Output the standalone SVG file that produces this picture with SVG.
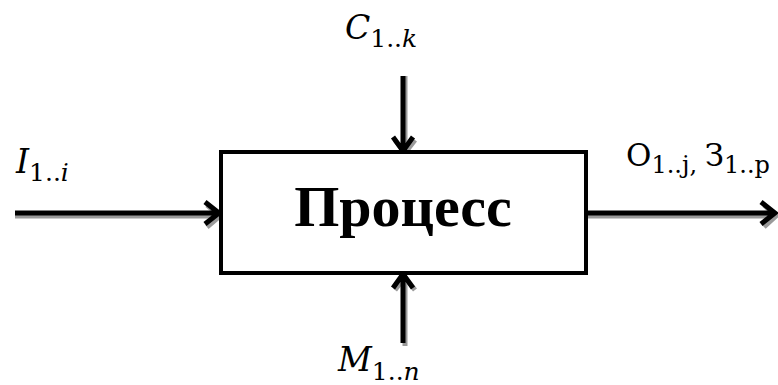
<svg xmlns="http://www.w3.org/2000/svg" width="778" height="385" viewBox="0 0 778 385">
<style>
.ln{fill:none;stroke:#000;stroke-width:5;stroke-linecap:butt;stroke-linejoin:miter}
.sh{fill:none;stroke:#9a9a9a;stroke-width:5;stroke-linejoin:miter}
.m{font-family:"DejaVu Serif","Liberation Serif",serif;fill:#000}
.it{font-style:italic}
.big{font-size:33px}
.sub{font-size:25px}
.box{fill:#fff;stroke:#000;stroke-width:4}
.title{font-family:"Liberation Serif","Times New Roman",serif;font-weight:bold;font-size:58px;fill:#000}
</style>
<g id="connectors">
  <g id="arrow-in">
    <path class="sh" d="M15 216 H219 M207 205 L220 216 L207 227"/>
    <path class="ln" d="M15 213 H218 M205 202 L219 213 L205 224"/>
  </g>
  <g id="arrow-out">
    <path class="sh" d="M588 216 H775 M764 205 L776 216 L764 227"/>
    <path class="ln" d="M588 213 H774 M761 202 L775 213 L761 224"/>
  </g>
  <g id="arrow-control">
    <path class="sh" d="M405 76 V152 M395 140 L405 153 L415 140"/>
    <path class="ln" d="M403 76 V150 M393 137 L403 151 L413 137"/>
  </g>
  <g id="arrow-mechanism">
    <path class="sh" d="M405 276 V346 M395 290 L405 277 L415 290"/>
    <path class="ln" d="M403 276 V343 M393 288 L403 274 L413 288"/>
  </g>
</g>
<g id="process">
  <rect class="box" x="221" y="152" width="365" height="121"/>
  <text class="title" x="403" y="226" text-anchor="middle">Процесс</text>
</g>
<g id="label-input">
  <text class="m" x="16" y="173"><tspan class="it big">I</tspan><tspan class="sub" dy="8">1..</tspan><tspan class="it sub">i</tspan></text>
</g>
<g id="label-control">
  <text class="m" x="345" y="39"><tspan class="it big">C</tspan><tspan class="sub" dy="8">1..</tspan><tspan class="it sub">k</tspan></text>
</g>
<g id="label-output">
  <text class="m" x="626" y="166"><tspan font-size="31">О</tspan><tspan font-size="24" dy="7">1..j</tspan><tspan font-size="24">, </tspan><tspan font-size="31" dy="-7">З</tspan><tspan font-size="24" dy="7">1..p</tspan></text>
</g>
<g id="label-mechanism">
  <text class="m" x="338" y="371"><tspan class="it big">M</tspan><tspan class="sub" dy="9">1..</tspan><tspan class="it sub">n</tspan></text>
</g>
</svg>
